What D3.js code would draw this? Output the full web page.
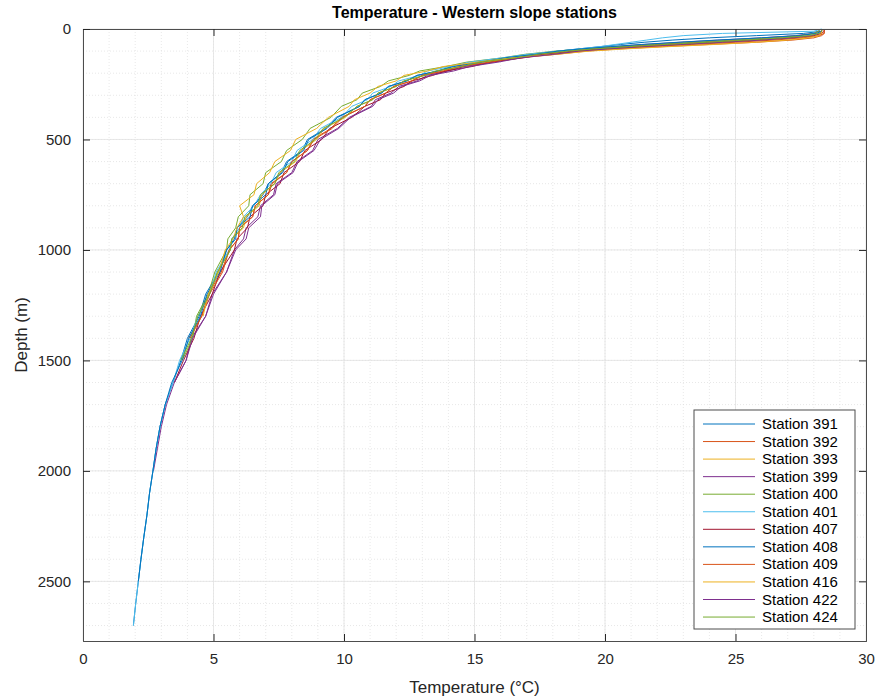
<!DOCTYPE html>
<html>
<head>
<meta charset="utf-8">
<script src="https://cdn.jsdelivr.net/npm/d3@7"></script>
<style>
  body { margin: 0; background: #fff; }
  svg { font-family: "Liberation Sans", Arial, Helvetica, sans-serif; }
</style>
</head>
<body>
<div id="chart"></div>
<script>
// depth levels (m) shared by every station profile
var depths = [0, 10, 20, 30, 40, 50, 60, 70, 80, 90,
  100, 115, 130, 150, 170, 190, 210, 235, 260, 290,
  320, 350, 400, 450, 500, 550, 600, 650, 700, 750,
  800, 850, 900, 950, 1000, 1100, 1200, 1300, 1400, 1500,
  1600, 1700, 1800, 1900, 2000, 2100, 2200, 2300, 2400, 2500,
  2600, 2700];

var stations = ["Station 391", "Station 392", "Station 393", "Station 399", "Station 400", "Station 401",
  "Station 407", "Station 408", "Station 409", "Station 416", "Station 422", "Station 424"];

var colors = ["#0072BD", "#D95319", "#EDB120", "#7E2F8E", "#77AC30", "#4DBEEE",
  "#A2142F", "#0072BD", "#D95319", "#EDB120", "#7E2F8E", "#77AC30"];

// temperature (°C) at each depth, profiles stop where the cast ended
var t391 = [28.3, 28.3, 27.6, 25.8, 24.0, 22.6, 21.5, 20.6, 19.8, 19.0,
  18.2, 17.3, 16.2, 15.1, 14.1, 13.6, 12.8, 12.4, 11.7, 11.4,
  10.8, 10.6, 9.7, 9.3, 8.6, 8.4, 7.8, 7.6, 7.1, 6.9,
  6.5, 6.3, 5.9, 5.8, 5.5, 5.2, 4.7, 4.45, 4.0, 3.75,
  3.45, 3.15, 2.95, 2.8, 2.68, 2.55, 2.45, 2.33, 2.22, 2.12,
  2.02, 1.93];
var t392 = [28.4, 28.4, 28.4, 28.3, 28.0, 27.2, 25.8, 24.0, 22.2, 20.6,
  19.3, 18.1, 16.8, 15.7, 14.5, 13.9, 13.0, 12.6, 11.9, 11.6,
  11.0, 10.8, 9.9, 9.5, 8.8, 8.6, 8.0, 7.8, 7.2, 7.1,
  6.6, 6.5, 6.0, 5.95, 5.6, 5.3, 4.8, 4.55, 4.05];
var t393 = [28.3, 28.3, 28.3, 28.2, 27.5, 26.2, 24.6, 23.0, 21.4, 20.0,
  18.9, 17.7, 16.8, 15.3, 14.6, 13.6, 13.1, 12.3, 12.0, 11.3,
  11.1, 10.5, 10.05, 9.25, 8.95, 8.35, 8.15, 7.55, 7.35, 6.85,
  6.75, 6.25, 6.15, 5.7, 5.65, 5.15, 4.85];
var t399 = [28.2, 28.2, 28.0, 27.3, 26.0, 24.4, 22.9, 21.5, 20.3, 19.2,
  18.3, 17.5, 16.5, 15.7, 14.6, 14.0, 13.2, 12.8, 12.1, 11.8,
  11.2, 11.05, 10.2, 9.75, 9.0, 8.8, 8.2, 8.0, 7.4, 7.3,
  6.8, 6.7, 6.25, 6.15, 5.8, 5.5, 4.95, 4.7, 4.15, 3.95,
  3.5, 3.2, 3.0, 2.85, 2.7];
var t400 = [28.2, 28.2, 28.0, 27.5, 26.4, 24.9, 23.4, 21.9, 20.5, 19.2,
  18.1, 16.9, 16.1, 14.7, 13.9, 12.9, 12.5, 11.7, 11.4, 10.7,
  10.5, 9.9, 9.5, 8.7, 8.4, 7.8, 7.6, 7.0, 6.9, 6.4,
  6.35, 5.95, 5.85, 5.55, 5.5, 5.05, 4.8, 4.35, 4.2, 3.8];
var t401 = [28.3, 28.0, 24.5, 23.0, 22.2, 21.6, 21.0, 20.4, 19.8, 19.0,
  18.2, 17.0, 16.1, 14.8, 14.1, 13.2, 12.9, 12.1, 11.8, 11.1,
  10.9, 10.3, 9.9, 9.1, 8.8, 8.2, 8.0, 7.4, 7.2, 6.8,
  6.55, 6.15, 6.0, 5.7, 5.6, 5.1, 4.85, 4.4, 4.1, 3.7,
  3.45, 3.15, 2.95, 2.8, 2.68, 2.55, 2.45, 2.33, 2.22, 2.12,
  2.02, 1.93];
var t407 = [28.4, 28.4, 28.3, 28.0, 27.0, 25.6, 24.0, 22.4, 21.0, 19.8,
  18.8, 17.6, 16.9, 15.6, 14.9, 13.9, 13.4, 12.6, 12.3, 11.6,
  11.4, 10.8, 10.3, 9.45, 9.15, 8.5, 8.3, 7.7, 7.55, 7.0,
  6.9, 6.4, 6.3, 5.9, 5.8, 5.25, 4.95, 4.5, 4.25, 3.85,
  3.5];
var t408 = [28.3, 28.3, 28.1, 27.4, 26.0, 24.3, 22.8, 21.4, 20.2, 19.1,
  18.2, 17.3, 16.2, 15.3, 14.2, 13.6, 12.8, 12.4, 11.7, 11.45,
  10.8, 10.6, 9.75, 9.35, 8.65, 8.45, 7.85, 7.65, 7.1, 7.0,
  6.5, 6.4, 5.9, 5.85, 5.5, 5.25, 4.75, 4.5, 4.05, 3.8,
  3.4, 3.15, 2.95, 2.8, 2.68, 2.55, 2.45, 2.33, 2.22, 2.12];
var t409 = [28.4, 28.4, 28.4, 28.2, 27.6, 26.5, 25.0, 23.3, 21.6, 20.2,
  19.0, 17.9, 16.6, 15.6, 14.4, 13.8, 13.0, 12.6, 11.9, 11.6,
  11.0, 10.8, 9.95, 9.55, 8.85, 8.6, 8.0, 7.8, 7.25, 7.1,
  6.6, 6.5, 6.0, 5.95, 5.6, 5.35, 4.85, 4.55, 4.1];
var t416 = [28.3, 28.3, 28.3, 28.2, 27.8, 27.0, 25.8, 24.2, 22.4, 20.8,
  19.4, 18.1, 16.5, 15.1, 13.8, 13.2, 12.3, 12.0, 11.3, 11.0,
  10.4, 10.2, 9.4, 8.95, 8.15, 7.95, 7.35, 7.15, 6.65, 6.55,
  6.0, 6.15, 5.9, 5.75, 5.45, 5.2, 4.8, 4.6];
var t422 = [28.3, 28.3, 28.2, 27.9, 27.2, 26.0, 24.5, 22.9, 21.4, 20.1,
  19.0, 18.0, 16.8, 15.9, 14.8, 14.2, 13.3, 12.9, 12.2, 11.9,
  11.3, 11.1, 10.25, 9.8, 9.1, 8.85, 8.25, 8.05, 7.45, 7.35,
  6.85, 6.8, 6.35, 6.25, 5.85, 5.5, 5.0, 4.7, 4.2, 3.95,
  3.5];
var t424 = [28.3, 28.3, 28.2, 27.8, 26.8, 25.4, 23.9, 22.3, 20.9, 19.6,
  18.6, 17.4, 16.6, 15.2, 14.5, 13.5, 13.1, 12.3, 12.0, 11.3,
  11.1, 10.5, 10.0, 9.2, 8.9, 8.3, 8.1, 7.5, 7.35, 6.8,
  6.7, 6.2, 6.1, 5.7, 5.65, 5.15, 4.85, 4.4, 4.15, 3.75];

var profiles = [t391, t392, t393, t399, t400, t401, t407, t408, t409, t416, t422, t424];

var xTicks = [0, 5, 10, 15, 20, 25, 30];
var yTicks = [0, 500, 1000, 1500, 2000, 2500];

var width = 879, height = 699;
var margin = { top: 29, right: 13, bottom: 58, left: 83 };
var plotW = width - margin.left - margin.right;
var plotH = height - margin.top - margin.bottom;

var svg = d3.select('#chart').append('svg')
  .attr('width', width)
  .attr('height', height);

var x = d3.scaleLinear().domain([0, 30]).range([0, plotW]);
var y = d3.scaleLinear().domain([0, 2770]).range([0, plotH]);

var g = svg.append('g')
  .attr('transform', 'translate(' + margin.left + ',' + margin.top + ')');

// minor grid
g.append('g').selectAll('line').data(d3.range(1, 30)).enter().append('line')
  .attr('x1', function (d) { return x(d); }).attr('x2', function (d) { return x(d); })
  .attr('y1', 0).attr('y2', plotH)
  .style('stroke', '#d8d8d8').style('stroke-width', 0.6).style('stroke-dasharray', '1,2');
g.append('g').selectAll('line').data(d3.range(100, 2770, 100)).enter().append('line')
  .attr('y1', function (d) { return y(d); }).attr('y2', function (d) { return y(d); })
  .attr('x1', 0).attr('x2', plotW)
  .style('stroke', '#d8d8d8').style('stroke-width', 0.6).style('stroke-dasharray', '1,2');

// major grid
g.append('g').selectAll('line').data(xTicks).enter().append('line')
  .attr('x1', function (d) { return x(d); }).attr('x2', function (d) { return x(d); })
  .attr('y1', 0).attr('y2', plotH)
  .style('stroke', '#e2e2e2').style('stroke-width', 0.8);
g.append('g').selectAll('line').data(yTicks).enter().append('line')
  .attr('y1', function (d) { return y(d); }).attr('y2', function (d) { return y(d); })
  .attr('x1', 0).attr('x2', plotW)
  .style('stroke', '#e2e2e2').style('stroke-width', 0.8);

// profiles
var line = d3.line()
  .x(function (d) { return x(d[0]); })
  .y(function (d) { return y(d[1]); });

profiles.forEach(function (p, i) {
  var pts = p.map(function (t, k) { return [t, depths[k]]; });
  g.append('path')
    .datum(pts)
    .attr('d', line)
    .style('fill', 'none')
    .style('stroke', colors[i])
    .style('stroke-width', 1);
});

// axes, ticks pointing inward on all four sides
var tickLen = 7;
var xb = g.append('g').attr('transform', 'translate(0,' + plotH + ')')
  .call(d3.axisBottom(x).tickValues(xTicks).tickSize(-tickLen).tickPadding(12));
var xt = g.append('g')
  .call(d3.axisTop(x).tickValues(xTicks).tickSize(-tickLen).tickFormat(''));
var yl = g.append('g')
  .call(d3.axisLeft(y).tickValues(yTicks).tickSize(-tickLen).tickPadding(12).tickFormat(d3.format('d')));
var yr = g.append('g').attr('transform', 'translate(' + plotW + ',0)')
  .call(d3.axisRight(y).tickValues(yTicks).tickSize(-tickLen).tickFormat(''));

[xb, xt, yl, yr].forEach(function (a) {
  a.select('.domain').style('stroke', '#4d4d4d').style('stroke-width', 1);
  a.selectAll('.tick line').style('stroke', '#262626').style('stroke-width', 1);
  a.selectAll('.tick text').style('fill', '#262626').style('font-size', '15px')
    .style('font-family', '"Liberation Sans", Arial, sans-serif');
});

// titles
svg.append('text')
  .attr('x', margin.left + plotW / 2).attr('y', 18)
  .attr('text-anchor', 'middle')
  .style('font-size', '16px').style('font-weight', 'bold').style('fill', '#000')
  .text('Temperature - Western slope stations');

svg.append('text')
  .attr('x', margin.left + plotW / 2).attr('y', 693)
  .attr('text-anchor', 'middle')
  .style('font-size', '17px').style('fill', '#262626')
  .text('Temperature (°C)');

svg.append('text')
  .attr('transform', 'translate(27,' + (margin.top + plotH / 2) + ') rotate(-90)')
  .attr('text-anchor', 'middle')
  .style('font-size', '17px').style('fill', '#262626')
  .text('Depth (m)');

// legend
var lg = svg.append('g').attr('transform', 'translate(694,410)');
lg.append('rect')
  .attr('width', 161).attr('height', 219)
  .style('fill', '#fff').style('stroke', '#4d4d4d').style('stroke-width', 1);

stations.forEach(function (s, i) {
  var yy = 14 + i * 17.55;
  lg.append('line')
    .attr('x1', 9).attr('x2', 61).attr('y1', yy).attr('y2', yy)
    .style('stroke', colors[i]).style('stroke-width', 1);
  lg.append('text')
    .attr('x', 68).attr('y', yy + 5)
    .style('font-size', '15px').style('fill', '#000')
    .text(s);
});
</script>
</body>
</html>
